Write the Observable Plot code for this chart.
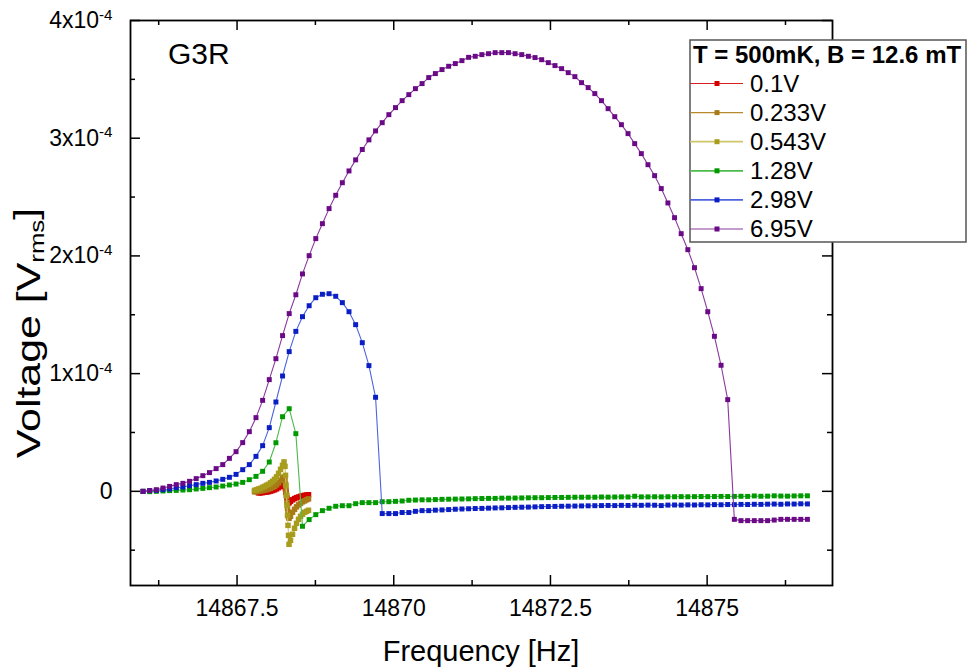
<!DOCTYPE html>
<html><head><meta charset="utf-8">
<script src="https://cdn.jsdelivr.net/npm/d3@7"></script>
<script src="https://cdn.jsdelivr.net/npm/@observablehq/plot@0.6"></script>
<style>
html,body{margin:0;padding:0;background:#fff;}
#chart{width:968px;height:670px;position:relative;}
</style></head>
<body><div id="chart"></div>
<script>
// ---- Data (voltage in units of 1e-4 V_rms) ----
const freq = [14866.000,14866.106,14866.212,14866.318,14866.424,14866.530,14866.636,14866.742,14866.848,14866.954,
14867.060,14867.166,14867.272,14867.378,14867.484,14867.590,14867.696,14867.802,14867.908,14868.014,
14868.120,14868.226,14868.332,14868.438,14868.544,14868.650,14868.756,14868.862,14868.968,14869.074,
14869.180,14869.286,14869.392,14869.498,14869.604,14869.710,14869.816,14869.922,14870.028,14870.134,
14870.240,14870.346,14870.452,14870.558,14870.664,14870.770,14870.876,14870.982,14871.088,14871.194,
14871.300,14871.406,14871.512,14871.618,14871.724,14871.830,14871.936,14872.042,14872.148,14872.254,
14872.360,14872.466,14872.572,14872.678,14872.784,14872.890,14872.996,14873.102,14873.208,14873.314,
14873.420,14873.526,14873.632,14873.738,14873.844,14873.950,14874.056,14874.162,14874.268,14874.374,
14874.480,14874.586,14874.692,14874.798,14874.904,14875.010,14875.116,14875.222,14875.328,14875.434,
14875.540,14875.646,14875.752,14875.858,14875.964,14876.070,14876.176,14876.282,14876.388,14876.494,14876.600];

const v695 = [0.000,0.006,0.014,0.028,0.042,0.057,0.068,0.085,0.108,0.133,
0.159,0.193,0.227,0.280,0.337,0.414,0.507,0.626,0.773,0.949,
1.127,1.323,1.510,1.670,1.847,2.002,2.147,2.274,2.402,2.515,
2.622,2.722,2.816,2.904,2.986,3.062,3.132,3.200,3.260,3.319,
3.370,3.421,3.464,3.515,3.549,3.583,3.611,3.634,3.659,3.687,
3.696,3.710,3.718,3.727,3.727,3.727,3.718,3.710,3.696,3.685,
3.667,3.642,3.617,3.591,3.557,3.523,3.472,3.430,3.379,3.319,
3.251,3.183,3.115,3.039,2.954,2.869,2.775,2.682,2.572,2.450,
2.325,2.189,2.053,1.900,1.722,1.526,1.317,1.071,0.779,-0.238,
-0.249,-0.249,-0.249,-0.249,-0.249,-0.244,-0.238,-0.238,-0.238,-0.238,-0.238];

const v298 = [0.000,0.006,0.008,0.014,0.020,0.031,0.037,0.048,0.057,0.068,
0.076,0.088,0.102,0.119,0.144,0.184,0.227,0.297,0.388,0.541,
0.759,0.980,1.187,1.359,1.484,1.577,1.645,1.674,1.679,1.657,
1.603,1.526,1.416,1.263,1.068,0.799,-0.189,-0.189,-0.189,-0.180,
-0.180,-0.170,-0.164,-0.164,-0.160,-0.158,-0.155,-0.152,-0.150,-0.148,
-0.146,-0.145,-0.143,-0.141,-0.140,-0.138,-0.136,-0.135,-0.134,-0.132,
-0.130,-0.129,-0.128,-0.127,-0.126,-0.125,-0.124,-0.123,-0.122,-0.121,
-0.120,-0.121,-0.119,-0.120,-0.118,-0.119,-0.117,-0.118,-0.121,-0.117,
-0.116,-0.117,-0.115,-0.116,-0.114,-0.115,-0.113,-0.114,-0.112,-0.113,
-0.111,-0.112,-0.110,-0.111,-0.109,-0.108,-0.110,-0.107,-0.108,-0.106,-0.107];

const v128 = [0.000,-0.003,0.000,0.003,0.006,0.008,0.011,0.014,0.020,0.025,
0.031,0.037,0.045,0.054,0.062,0.076,0.099,0.127,0.170,0.249,
0.413,0.634,0.702,0.490,-0.297,-0.240,-0.198,-0.164,-0.144,-0.127,
-0.122,-0.122,-0.105,-0.096,-0.096,-0.096,-0.088,-0.088,-0.085,-0.082,
-0.076,-0.074,-0.072,-0.072,-0.070,-0.068,-0.067,-0.066,-0.065,-0.064,
-0.062,-0.061,-0.060,-0.060,-0.058,-0.058,-0.057,-0.056,-0.055,-0.054,
-0.054,-0.053,-0.052,-0.052,-0.051,-0.050,-0.050,-0.050,-0.050,-0.048,
-0.049,-0.048,-0.047,-0.048,-0.042,-0.047,-0.047,-0.046,-0.047,-0.046,
-0.046,-0.045,-0.046,-0.045,-0.044,-0.045,-0.044,-0.043,-0.044,-0.043,
-0.042,-0.043,-0.039,-0.042,-0.041,-0.038,-0.040,-0.041,-0.039,-0.038,-0.038];

const fSmall = [14867.779,14867.811,14867.842,14867.874,14867.906,14867.938,14867.970,14868.002,14868.034,14868.066,
14868.098,14868.130,14868.162,14868.194,14868.225,14868.249,14868.265,14868.273,14868.281,14868.289,
14868.297,14868.305,14868.313,14868.321,14868.329,14868.353,14868.385,14868.417,14868.449,14868.481,
14868.513,14868.545,14868.577,14868.609,14868.640];

const v0543 = [0.008,0.013,0.020,0.025,0.034,0.042,0.051,0.059,0.072,0.085,
0.102,0.123,0.153,0.187,0.221,0.250,0.212,0.136,0.051,-0.034,
-0.119,-0.204,-0.289,-0.374,-0.450,-0.416,-0.365,-0.314,-0.272,-0.238,
-0.212,-0.195,-0.178,-0.170,-0.161];

const v0233 = [-0.004,-0.003,0.000,0.003,0.007,0.010,0.014,0.020,0.025,0.034,
0.042,0.055,0.072,0.093,0.115,0.121,0.102,0.059,0.008,-0.042,
-0.093,-0.144,-0.187,-0.217,-0.229,-0.212,-0.178,-0.153,-0.132,-0.115,
-0.102,-0.089,-0.081,-0.072,-0.064];

const v01 = [null,null,-0.013,-0.013,-0.011,-0.008,-0.006,-0.003,0.002,0.007,
0.013,0.021,0.031,0.042,0.051,0.051,0.038,0.017,-0.008,-0.034,
-0.059,-0.081,-0.093,-0.098,-0.096,-0.085,-0.072,-0.062,-0.054,-0.048,
-0.042,-0.038,-0.034,-0.031,-0.029];

const seriesNames = ["0.1V","0.233V","0.543V","1.28V","2.98V","6.95V"];
const markerColors = ["#d40000","#a87a16","#a89c1c","#009a00","#0a1ec4","#6a0a86"];
const lineColors   = ["#d42020","#b8882c","#cfc56a","#4cbb4c","#4d64de","#8a3a9e"];

const xTicks = [14867.5, 14870, 14872.5, 14875];
const xMinor = [14866.25, 14868.75, 14871.25, 14873.75, 14876.25];
const yTicks = [0, 1, 2, 3, 4];
const yMinor = [-0.5, 0.5, 1.5, 2.5, 3.5];
const yTickLabels = ["0", "1x10^-4", "2x10^-4", "3x10^-4", "4x10^-4"];

const legendTitle = "T = 500mK, B = 12.6 mT";
const sampleLabel = "G3R";
const xTitle = "Frequency [Hz]";

// ---- build tables ----
const seriesData = [
  [fSmall, v01], [fSmall, v0233], [fSmall, v0543],
  [freq, v128], [freq, v298], [freq, v695]
].map(([fs, vs], k) => fs.map((f, i) => ({f, v: vs[i], s: seriesNames[k]})));

const FONT = "'Liberation Sans', Arial, Helvetica, sans-serif";

const dataMarks = seriesData.flatMap((d, k) => [
  Plot.line(d, {x: "f", y: "v", stroke: lineColors[k], strokeWidth: 1.1}),
  Plot.dot(d.filter(p => p.v != null), {x: "f", y: "v", symbol: "square", r: k < 3 ? 3.1 : 2.8, fill: markerColors[k], stroke: "none"})
]);

const W = 968, H = 670, ML = 130, MR = 136, MT = 20, MB = 85;
const PW = W - ML - MR, PH = H - MT - MB;
const tk = {stroke: "black", strokeWidth: 1.5};

const svg = Plot.plot({
  width: W, height: H,
  marginLeft: ML, marginRight: MR, marginTop: MT, marginBottom: MB,
  style: {fontFamily: FONT, fontSize: "23px", color: "black", background: "white"},
  x: {domain: [14865.8, 14877.0]},
  y: {domain: [-0.8, 4]},
  marks: [
    ...dataMarks,
    // inward ticks on all four sides
    Plot.tickX(xTicks, {x: d => d, insetTop: PH - 10, ...tk}),
    Plot.tickX(xMinor, {x: d => d, insetTop: PH - 5, ...tk}),
    Plot.tickX(xTicks, {x: d => d, insetBottom: PH - 10, ...tk}),
    Plot.tickX(xMinor, {x: d => d, insetBottom: PH - 5, ...tk}),
    Plot.tickY(yTicks, {y: d => d, insetRight: PW - 10, ...tk}),
    Plot.tickY(yMinor, {y: d => d, insetRight: PW - 5, ...tk}),
    Plot.tickY(yTicks, {y: d => d, insetLeft: PW - 10, ...tk}),
    Plot.tickY(yMinor, {y: d => d, insetLeft: PW - 5, ...tk}),
    Plot.axisX({ticks: xTicks, tickSize: 0, tickPadding: 14, fontSize: 23, tickFormat: d => String(d), label: null}),
    Plot.axisY({ticks: yTicks, tickSize: 0, tickPadding: 18, fontSize: 23, tickFormat: d => yTickLabels[yTicks.indexOf(d)], label: null}),
    Plot.frame({stroke: "black", strokeWidth: 1.8})
  ]
});
document.getElementById("chart").append(svg);

const S = d3.select(svg);
// superscripts in y tick labels
S.selectAll('g[aria-label="y-axis tick label"] text').each(function() {
  const t = this.textContent;
  const m = t.match(/^(.*)\^(.*)$/);
  if (!m) return;
  const sel = d3.select(this);
  sel.text(null);
  sel.append("tspan").text(m[1]);
  sel.append("tspan").attr("font-size", "0.66em").attr("dy", "-0.55em").text(m[2]);
});

// axis titles
S.append("text").attr("x", 481).attr("y", 661).attr("text-anchor", "middle")
  .attr("font-family", FONT).attr("font-size", 29).attr("fill", "black").text(xTitle);
const yt = S.append("text").attr("transform", "translate(40,333) rotate(-90) scale(1.3,1)").attr("text-anchor", "middle")
  .attr("font-family", FONT).attr("font-size", 33).attr("fill", "black");
yt.append("tspan").text("Voltage [V");
yt.append("tspan").attr("font-size", "0.6em").attr("dy", "0.2em").text("rms");
yt.append("tspan").attr("dy", "-0.2em").text("]");

// sample label
S.append("text").attr("x", 168).attr("y", 64).attr("text-anchor", "start").attr("font-family", FONT).attr("font-size", 30)
  .attr("fill", "black").text(sampleLabel);

// legend
const lg = S.append("g").attr("text-anchor", "start");
lg.append("rect").attr("x", 690).attr("y", 40).attr("width", 276).attr("height", 202)
  .attr("fill", "white").attr("stroke", "#555").attr("stroke-width", 1.5);
lg.append("text").attr("x", 693).attr("y", 63).attr("font-family", FONT).attr("font-size", 24)
  .attr("font-weight", "bold").attr("fill", "black").text(legendTitle);
seriesNames.forEach((name, k) => {
  const cy = 83.5 + k * 29.1;
  lg.append("line").attr("x1", 690).attr("x2", 743).attr("y1", cy).attr("y2", cy)
    .attr("stroke", lineColors[k]).attr("stroke-width", k >= 2 && k <= 4 ? 1.8 : 1.2);
  lg.append("rect").attr("x", 714.5).attr("y", cy - 2.5).attr("width", 5).attr("height", 5).attr("fill", markerColors[k]);
  lg.append("text").attr("x", 750).attr("y", cy + 8.3).attr("font-family", FONT).attr("font-size", 24)
    .attr("fill", "black").text(name);
});
</script>
</body></html>
